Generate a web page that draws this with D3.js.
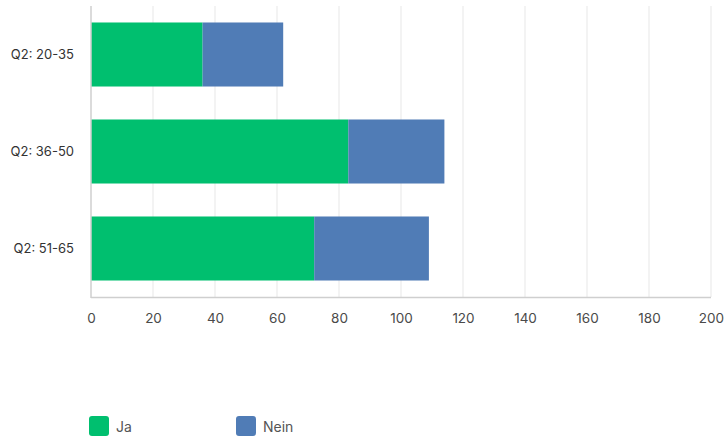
<!DOCTYPE html>
<html>
<head>
<meta charset="utf-8">
<script src="https://cdn.jsdelivr.net/npm/d3@7"></script>
<style>
  body { margin: 0; background: #fff; }
  svg text { font-family: Inter, "Noto Sans", sans-serif; }
</style>
</head>
<body>
<div id="chart"></div>
<script>
// data
var categories = ["Q2: 20-35", "Q2: 36-50", "Q2: 51-65"];
var series = ["Ja", "Nein"];
var ja_values = [36, 83, 72];
var nein_values = [26, 31, 37];
var x_ticks = [0, 20, 40, 60, 80, 100, 120, 140, 160, 180, 200];
var colors = ["#00bf6f", "#507cb6"];

var width = 725, height = 441;
var margin = { top: 6, right: 14, bottom: 144, left: 91 };
var plot_w = width - margin.left - margin.right,
    plot_h = height - margin.top - margin.bottom;

var svg = d3.select("#chart").append("svg")
    .attr("width", width).attr("height", height);
var g = svg.append("g").attr("transform", "translate(" + margin.left + "," + margin.top + ")");

var scale_X = d3.scaleLinear().domain([0, 200]).range([0, plot_w]);
var scale_Y = d3.scaleBand().domain(categories).range([0, plot_h]).paddingInner(0.34).paddingOuter(0.17);

// grid lines
g.selectAll(".grid").data(x_ticks.slice(1)).enter().append("line")
    .attr("class", "grid")
    .attr("x1", function(d) { return scale_X(d); }).attr("x2", function(d) { return scale_X(d); })
    .attr("y1", 0).attr("y2", plot_h)
    .style("stroke", "#ebebeb").style("stroke-width", 1.2);

// stacked bars
var rows = categories.map(function(c, i) { return { cat: c, Ja: ja_values[i], Nein: nein_values[i] }; });
var stacked = d3.stack().keys(series)(rows);

g.selectAll(".layer").data(stacked).enter().append("g")
    .attr("class", "layer")
    .attr("fill", function(d, i) { return colors[i]; })
  .selectAll("rect").data(function(d) { return d; }).enter().append("rect")
    .attr("x", function(d) { return scale_X(d[0]); })
    .attr("width", function(d) { return scale_X(d[1]) - scale_X(d[0]); })
    .attr("y", function(d) { return scale_Y(d.data.cat); })
    .attr("height", scale_Y.bandwidth());

// axes lines
g.append("line").attr("x1", 0).attr("x2", 0).attr("y1", 0).attr("y2", plot_h + 1)
    .style("stroke", "#cfcfcf").style("stroke-width", 1.5);
g.append("line").attr("x1", 0).attr("x2", plot_w).attr("y1", plot_h + 0.5).attr("y2", plot_h + 0.5)
    .style("stroke", "#cfcfcf").style("stroke-width", 1.5);

// x axis labels
var x_axis = d3.axisBottom(scale_X).tickValues(x_ticks).tickSize(0).tickPadding(16);
var xa = g.append("g").attr("transform", "translate(0," + plot_h + ")").call(x_axis);
xa.select(".domain").remove();
xa.selectAll("text").style("font-size", "13.5px").style("fill", "#4a4a4a")
    .style("font-family", "Inter, 'Noto Sans', sans-serif");

// y axis labels
var y_axis = d3.axisLeft(scale_Y).tickSize(0).tickPadding(17);
var ya = g.append("g").call(y_axis);
ya.select(".domain").remove();
ya.selectAll("text").style("font-size", "13px").style("fill", "#333")
    .style("font-family", "Inter, 'Noto Sans', sans-serif");

// legend
var legend_x = [89, 236];
var legend = svg.selectAll(".legend").data(series).enter().append("g")
    .attr("class", "legend")
    .attr("transform", function(d, i) { return "translate(" + legend_x[i] + ",416)"; });
legend.append("rect").attr("width", 20).attr("height", 20).attr("rx", 3)
    .attr("fill", function(d, i) { return colors[i]; });
legend.append("text").attr("x", 27).attr("y", 15.5)
    .style("font-size", "14px").style("fill", "#555")
    .text(function(d) { return d; });
</script>
</body>
</html>
